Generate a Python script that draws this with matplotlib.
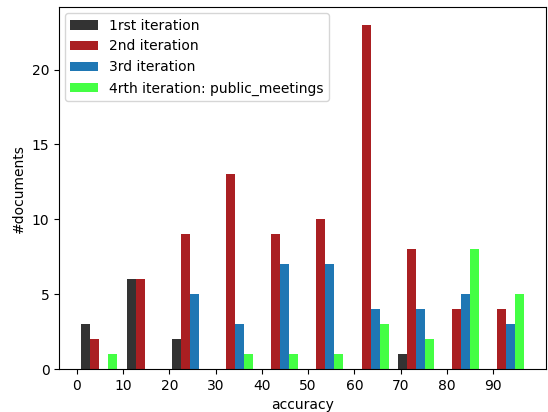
import numpy as np
import matplotlib
matplotlib.use("Agg")
import matplotlib.pyplot as plt

# histogram bins (10 equal bins over the accuracy range)
bin_lo, bin_hi, n_bins = 0.0, 97.7, 10

labels = ["1rst iteration", "2nd iteration", "3rd iteration",
          "4rth iteration: public_meetings"]
colors = ["#333333", "#aa1f22", "#1f77b4", "#44ff44"]

iter1 = [3, 6, 2, 0, 0, 0, 0, 1, 0, 0]
iter2 = [2, 6, 9, 13, 9, 10, 23, 8, 4, 4]
iter3 = [0, 0, 5, 3, 7, 7, 4, 4, 5, 3]
iter4 = [1, 0, 0, 1, 1, 1, 3, 2, 8, 5]

xticks = list(range(0, 100, 10))


def main():
    edges = np.linspace(bin_lo, bin_hi, n_bins + 1)
    w = edges[1] - edges[0]
    bw = 0.8 * w / 4  # same layout as plt.hist with 4 datasets

    fig = plt.figure(figsize=(5.48, 4.12), dpi=100)
    ax = fig.add_axes([0.108, 0.104, 0.889, 0.878])
    for k, (counts, lab, c) in enumerate(zip([iter1, iter2, iter3, iter4], labels, colors)):
        ax.bar(edges[:-1] + 0.1 * w + k * bw, counts, width=bw, align="edge",
               color=c, label=lab)
    ax.set_xticks(xticks)
    ax.set_xlabel("accuracy")
    ax.set_ylabel("#documents")
    ax.legend(loc="upper left", borderaxespad=0.4)
    fig.savefig("out.png", dpi=100)


if __name__ == "__main__":
    main()
